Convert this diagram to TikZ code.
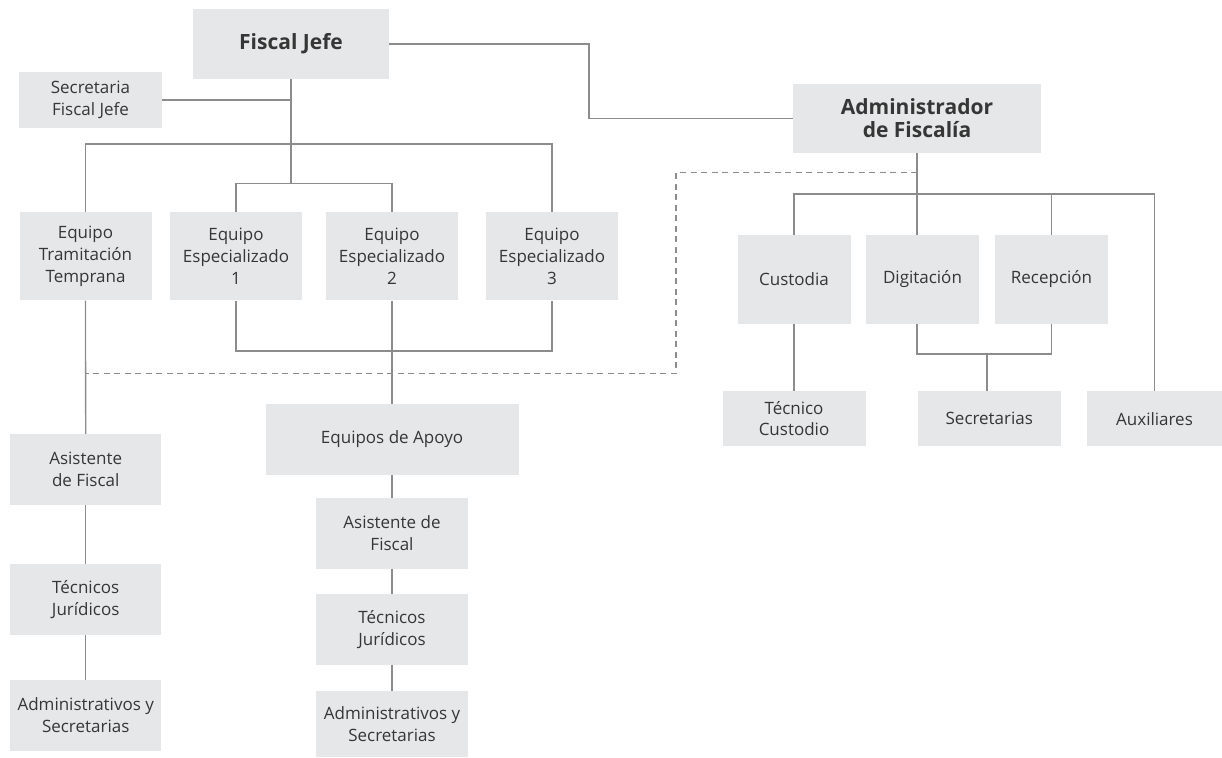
\documentclass[tikz,border=0pt]{standalone}
\usepackage{fontspec}
\setmainfont{Open Sans}
\definecolor{boxgray}{HTML}{E6E7E8}
\definecolor{linegray}{HTML}{8C8C8C}
\definecolor{txtgray}{HTML}{363636}
\begin{document}
\begin{tikzpicture}[x=1pt,y=-1pt,
  box/.style={fill=boxgray,text=txtgray,align=center,inner sep=0pt,
    font=\fontsize{17}{21.7}\selectfont},
  bigbox/.style={box,font=\fontsize{21}{22.5}\selectfont\bfseries},
  conn/.style={draw=linegray,line width=1.3pt},
  dashconn/.style={conn,dash pattern=on 6pt off 4.5pt}]
\useasboundingbox (0,0) rectangle (1222,757);

\node[bigbox,minimum width=196,minimum height=70] (fj) at (291,44) {Fiscal Jefe};
\node[box,minimum width=143,minimum height=56] (sec) at (90.5,100) {Secretaria\\Fiscal Jefe};
\node[bigbox,minimum width=248,minimum height=69] (adm) at (917,118.3) {Administrador\\de Fiscalía};

\node[box,minimum width=132,minimum height=88] (tt) at (85.5,256.3) {Equipo\\Tramitación\\Temprana};
\node[box,minimum width=132,minimum height=88] (ee1) at (236,256.3) {Equipo\\Especializado\\1};
\node[box,minimum width=132,minimum height=88] (ee2) at (392,256.3) {Equipo\\Especializado\\2};
\node[box,minimum width=132,minimum height=88] (ee3) at (552,256.3) {Equipo\\Especializado\\3};

\node[box,minimum width=113,minimum height=89] (cus) at (794,279.4) {Custodia};
\node[box,minimum width=113,minimum height=89] (dig) at (922.5,279.4) {Digitación};
\node[box,minimum width=113,minimum height=89] (rec) at (1051.5,279.4) {Recepción};

\node[box,minimum width=143,minimum height=55.3] (tcus) at (794,418.7) {Técnico\\Custodio};
\node[box,minimum width=143,minimum height=55.3] (secs) at (989.3,418.7) {Secretarias};
\node[box,minimum width=135,minimum height=55.3] (aux) at (1154.5,418.7) {Auxiliares};

%%%%%%%% left column
\node[box,minimum width=151.3,minimum height=70.7] (asis1) at (85.7,469.3) {Asistente\\de Fiscal};
\node[box,minimum width=151.3,minimum height=70.7] (tec1) at (85.7,599.5) {Técnicos\\Jurídicos};
\node[box,minimum width=151.3,minimum height=70.7] (admv1) at (85.7,715.3) {Administrativos y\\Secretarias};

%%%%%%%% support column
\node[box,minimum width=253,minimum height=70.7] (apoyo) at (392,439.3) {Equipos de Apoyo};
\node[box,minimum width=151.3,minimum height=70.7] (asis2) at (392,533.3) {Asistente de\\Fiscal};
\node[box,minimum width=151.3,minimum height=70.7] (tec2) at (392,629.3) {Técnicos\\Jurídicos};
\node[box,minimum width=151.3,minimum height=65.7] (admv2) at (392,724) {Administrativos y\\Secretarias};

\coordinate (jog) at (589,80);
\coordinate (bar1) at (291,144);
\coordinate (bar2) at (291,183.7);
\coordinate (brk) at (392,351);
\coordinate (abar) at (917,194);
\coordinate (sbar) at (987,354);
\coordinate (dash1) at (676,172.7);
\coordinate (dash2) at (676,373.3);

\draw[conn] (fj.east) -| (jog) |- (adm.west);
\draw[conn] (fj.south) -- (bar2);
\draw[conn] (sec.east) -- (sec.east -| fj);
\draw[conn] (tt.north) |- (bar1) -| (ee3.north);
\draw[conn] (ee1.north) |- (bar2) -| (ee2.north);
\draw[conn] (ee1.south) |- (brk) -| (ee3.south);
\path [conn] (ee2.south) edge (apoyo.north);
\path [conn] (apoyo) edge (asis2);
\path [conn] (asis2) edge (tec2);
\path [conn] (tec2) edge (admv2);
\path [conn] (tt) edge (asis1);
\path [conn] (asis1) edge (tec1);
\path [conn] (tec1) edge (admv1);
%%%%%%%% administrador
\draw[conn] (adm.south) -- (adm |- dig.north);
\draw[conn] (cus.north) |- (abar) -| (aux.north);
\draw[conn] (rec.north) -- (rec.north |- abar);
\path [conn] (cus) edge (tcus);
\draw[conn] (dig.south -| adm) |- (sbar) -| (rec.south);
\draw[conn] (sbar) -- (sbar |- secs.north);
%%%%%%%% dashed
\draw[dashconn] (dash1 -| adm) -- (dash1) -- (dash2) -- (dash2 -| tt);
\end{tikzpicture}
\end{document}
